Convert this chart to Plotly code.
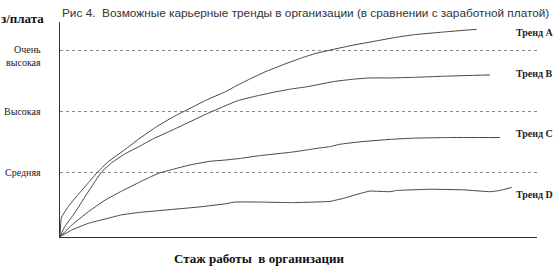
import plotly.graph_objects as go

# Data (x: relative work experience 0..100, y: salary level)
trend_a_x = [0, 0.27, 1.68, 3.77, 5.87, 7.97, 10.06, 13.56, 16.77, 20.27, 23.75, 27.25, 30.75, 34.59, 36.69, 39.48, 42.98, 47.17, 50.67, 53.46, 57.30, 61.49, 65.68, 70.59, 74.07, 81.07, 87.36]
trend_a_y = [-0.06, 0.25, 0.43, 0.63, 0.82, 1.01, 1.17, 1.37, 1.56, 1.75, 1.91, 2.05, 2.19, 2.32, 2.41, 2.52, 2.65, 2.78, 2.88, 2.95, 3.02, 3.09, 3.15, 3.22, 3.26, 3.31, 3.35]

trend_b_x = [0, 0.99, 3.08, 5.18, 7.27, 8.66, 10.75, 13.56, 16.77, 19.56, 23.75, 27.25, 30.75, 34.59, 37.38, 41.57, 45.07, 48.57, 51.36, 53.46, 57.30, 61.49, 64.99, 69.18, 74.07, 81.07, 90.15]
trend_b_y = [-0.06, 0.105, 0.33, 0.59, 0.84, 1.00, 1.15, 1.30, 1.43, 1.55, 1.70, 1.83, 1.96, 2.09, 2.18, 2.26, 2.32, 2.37, 2.40, 2.43, 2.49, 2.53, 2.55, 2.55, 2.56, 2.58, 2.60]

trend_c_x = [0, 2.45, 5.93, 9.43, 12.93, 16.77, 18.87, 20.96, 23.75, 27.25, 31.45, 34.59, 38.09, 41.57, 45.07, 48.57, 52.05, 54.51, 56.60, 58.70, 62.89, 69.18, 74.07, 81.07, 92.24]
trend_c_y = [-0.06, 0.13, 0.35, 0.54, 0.69, 0.84, 0.92, 0.99, 1.05, 1.12, 1.18, 1.20, 1.23, 1.27, 1.30, 1.33, 1.37, 1.40, 1.42, 1.46, 1.50, 1.54, 1.56, 1.57, 1.57]

trend_d_x = [0, 2.45, 5.93, 9.43, 12.93, 16.77, 23.75, 29.35, 34.59, 36.69, 41.57, 48.57, 53.46, 56.60, 59.39, 62.89, 64.99, 69.18, 70.59, 77.57, 84.55, 90.15, 92.24, 94.70]
trend_d_y = [-0.06, 0.05, 0.16, 0.23, 0.30, 0.34, 0.39, 0.43, 0.48, 0.51, 0.51, 0.50, 0.51, 0.52, 0.57, 0.65, 0.69, 0.68, 0.70, 0.72, 0.71, 0.68, 0.70, 0.75]

trend_names = ["Тренд А", "Тренд В", "Тренд С", "Тренд D"]
trend_label_y = [3.30, 2.63, 1.63, 0.63]

level_vals = [1, 2, 3]
level_labels = ["Средняя", "Высокая", "Очень<br>высокая"]

title_text = "Рис 4.  Возможные карьерные тренды в организации (в сравнении с заработной платой)"
y_title = "з/плата"
x_title = "Стаж работы  в организации"

SERIF = "Liberation Serif, Times New Roman, serif"
SANS = "Liberation Sans, Arial, sans-serif"
LINE_COLOR = "#454545"

fig = go.Figure()
series = [(trend_a_x, trend_a_y), (trend_b_x, trend_b_y), (trend_c_x, trend_c_y), (trend_d_x, trend_d_y)]
for (xs, ys), name in zip(series, trend_names):
    fig.add_trace(go.Scatter(x=xs, y=ys, mode="lines", name=name,
                             line=dict(color=LINE_COLOR, width=1, shape="spline", smoothing=0.3),
                             hoverinfo="skip", showlegend=False))

annotations = []
for name, ly in zip(trend_names, trend_label_y):
    annotations.append(dict(x=1.0, xref="paper", xanchor="left", xshift=-23, y=ly, yref="y",
                            text="<b>" + name + "</b>", showarrow=False,
                            font=dict(family=SERIF, size=10, color="#222")))
for v, t in zip(level_vals, level_labels):
    yshift = -5 if "<br>" in t else 0
    annotations.append(dict(x=0, xref="paper", xanchor="right", xshift=-17, y=v, yref="y",
                            yshift=yshift, text=t, showarrow=False, align="right",
                            font=dict(family=SERIF, size=10, color="#222")))
annotations.append(dict(x=0, xref="paper", xanchor="left", xshift=-61, y=1.0, yref="paper",
                        yanchor="middle", yshift=4, text="<b>" + y_title + "</b>", showarrow=False,
                        font=dict(family=SERIF, size=13, color="#111")))
annotations.append(dict(x=0.5, xref="paper", xanchor="left", xshift=-127, y=0, yref="paper",
                        yanchor="middle", yshift=-21, text="<b>" + x_title + "</b>", showarrow=False,
                        font=dict(family=SERIF, size=13, color="#111")))
annotations.append(dict(x=0, xref="paper", xanchor="left", xshift=0, y=1.0, yref="paper",
                        yanchor="middle", yshift=9, text=title_text, showarrow=False,
                        font=dict(family=SANS, size=11.8, color="#333")))

fig.update_layout(
    width=559, height=269,
    margin=dict(l=60, r=22, t=22, b=32),
    paper_bgcolor="white", plot_bgcolor="white",
    annotations=annotations,
    xaxis=dict(range=[0, 100], showgrid=False, zeroline=False, showticklabels=False, ticks="",
               showline=True, linecolor="#333", linewidth=1),
    yaxis=dict(range=[-0.065, 3.47], tickvals=level_vals, showticklabels=False, ticks="",
               showgrid=True, gridcolor="#888", griddash="dot", gridwidth=1, zeroline=False,
               showline=True, linecolor="#333", linewidth=1),
)

fig.write_html("out.html")
